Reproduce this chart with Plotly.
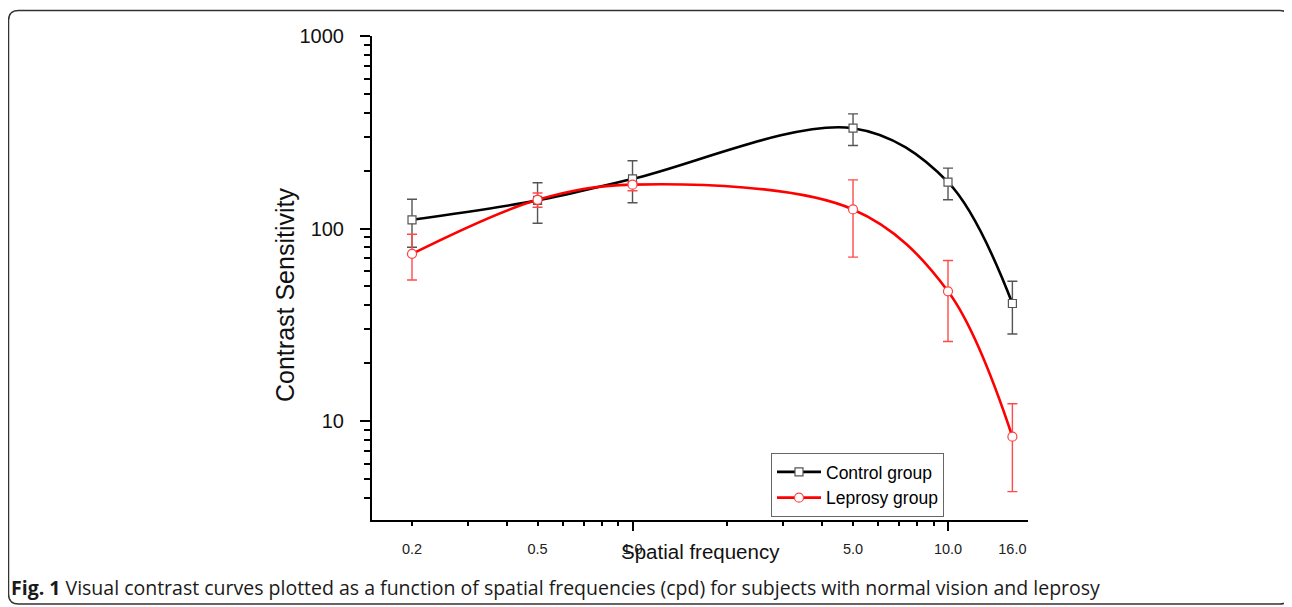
import plotly.graph_objects as go

# ---------------- data ----------------
freq = [0.2, 0.5, 1.0, 5.0, 10.0, 16.0]
freq_labels = ["0.2", "0.5", "1.0", "5.0", "10.0", "16.0"]

control = [111, 140, 181, 332, 174, 40.8]
control_hi = [142, 173, 225, 394, 206, 53.2]
control_lo = [80, 106.6, 136, 270, 141, 28.3]

leprosy = [73.8, 141, 169, 125.6, 47.2, 8.29]
leprosy_hi = [93.4, 153, 174, 179, 68.2, 12.3]
leprosy_lo = [54, 129, 157, 71, 25.9, 4.3]

y_major = [10, 100, 1000]
y_major_labels = ["10", "100", "1000"]
y_minor = [4, 5, 6, 7, 8, 9, 20, 30, 40, 50, 60, 70, 80, 90,
           200, 300, 400, 500, 600, 700, 800, 900]
x_major_marks = [1, 10]
x_minor_marks = [0.2, 0.3, 0.4, 0.5, 0.6, 0.7, 0.8, 0.9,
                 2, 3, 4, 5, 6, 7, 8, 9]

caption = "<b>Fig. 1</b> Visual contrast curves plotted as a function of spatial frequencies (cpd) for subjects with normal vision and leprosy"

# ---------------- layout geometry (screen px; page has an 8px body margin) ----------------
OFF = 8
W, H = 1292 - OFF, 607 - OFF
L, R, T, B = 372, 1028, 36, 520          # plot-area edges in screen pixels
FONT = "Arial, Liberation Sans, sans-serif"

xrange_ = [-0.8258, 1.2536]
yrange_ = [0.486, 3.0]


def px2paper(px, py):
    return (px - L) / (R - L), (B - py) / (B - T)


fig = go.Figure()

fig.add_trace(go.Scatter(
    x=freq, y=control, name="Control group",
    mode="lines+markers",
    line=dict(color="black", width=2.6, shape="spline", smoothing=1.0),
    marker=dict(symbol="square", size=8, color="white",
                line=dict(color="#555555", width=1.2)),
    error_y=dict(type="data", symmetric=False,
                 array=[h - v for h, v in zip(control_hi, control)],
                 arrayminus=[v - l for v, l in zip(control, control_lo)],
                 color="#555555", thickness=1.4, width=5),
))

fig.add_trace(go.Scatter(
    x=freq, y=leprosy, name="Leprosy group",
    mode="lines+markers",
    line=dict(color="#ff0000", width=2.6, shape="spline", smoothing=1.0),
    marker=dict(symbol="circle", size=9, color="white",
                line=dict(color="#ff4040", width=1.2)),
    error_y=dict(type="data", symmetric=False,
                 array=[h - v for h, v in zip(leprosy_hi, leprosy)],
                 arrayminus=[v - l for v, l in zip(leprosy, leprosy_lo)],
                 color="#ff4a4a", thickness=1.4, width=5),
))

# invisible helper trace on the overlay axis that carries the tick marks
fig.add_trace(go.Scatter(
    x=freq, y=control, xaxis="x2", yaxis="y", mode="markers",
    marker=dict(opacity=0), showlegend=False, hoverinfo="skip",
))


def P(px, py):
    x, y = px2paper(px, py)
    return f"{x:.5f},{y:.5f}"


# frame (rounded rectangle)
fl, ft, fr, fb, rad = 8.5, 10.5, 1289.5, 604, 10
path = (f"M {P(fl + rad, ft)} L {P(fr - rad, ft)} Q {P(fr, ft)} {P(fr, ft + rad)} "
        f"L {P(fr, fb - rad)} Q {P(fr, fb)} {P(fr - rad, fb)} "
        f"L {P(fl + rad, fb)} Q {P(fl, fb)} {P(fl, fb - rad)} "
        f"L {P(fl, ft + rad)} Q {P(fl, ft)} {P(fl + rad, ft)} Z")
fig.add_shape(type="path", path=path, xref="paper", yref="paper",
              line=dict(color="#333333", width=1.5), layer="above")

xt, yt = px2paper(700, 551)
fig.add_annotation(text="Spatial frequency", x=xt, y=yt, xref="paper", yref="paper",
                   showarrow=False, xanchor="center", yanchor="middle",
                   font=dict(family=FONT, size=20.5, color="#111111"))

xt, yt = px2paper(285, 295)
fig.add_annotation(text="Contrast Sensitivity", x=xt, y=yt, xref="paper", yref="paper",
                   showarrow=False, xanchor="center", yanchor="middle", textangle=-90,
                   font=dict(family=FONT, size=25, color="#111111"))

xt, yt = px2paper(9, 587)
fig.add_annotation(text=caption, x=xt, y=yt, xref="paper", yref="paper",
                   showarrow=False, xanchor="left", yanchor="middle",
                   font=dict(family="Open Sans, sans-serif", size=19.5, color="#1a1a1a"))

lx, ly = px2paper(771, 453)

fig.update_layout(
    width=W, height=H,
    margin=dict(l=L - OFF, r=W - (R - OFF), t=T - OFF, b=H - (B - OFF), pad=0),
    paper_bgcolor="white", plot_bgcolor="white",
    font=dict(family=FONT, color="black"),
    showlegend=True,
    legend=dict(x=lx, y=ly, xanchor="left", yanchor="top",
                bordercolor="#666666", borderwidth=1, bgcolor="white",
                font=dict(family=FONT, size=17.5), itemwidth=44,
                tracegroupgap=0),
    xaxis=dict(type="log", range=xrange_, showgrid=False, zeroline=False,
               showline=True, linecolor="black", linewidth=2,
               tickmode="array", tickvals=freq, ticktext=freq_labels,
               ticks="", tickfont=dict(family=FONT, size=14.5, color="#222222"),
               ticklabelstandoff=15),
    xaxis2=dict(type="log", range=xrange_, overlaying="x", anchor="y", side="bottom",
                showgrid=False, zeroline=False, showline=False,
                tickmode="array", tickvals=x_major_marks, showticklabels=False,
                ticks="outside", ticklen=10, tickwidth=1.6, tickcolor="black",
                minor=dict(tickmode="array", tickvals=x_minor_marks, ticks="outside",
                           ticklen=5, tickwidth=1.5, tickcolor="black", showgrid=False)),
    yaxis=dict(type="log", range=yrange_, showgrid=False, zeroline=False,
               showline=True, linecolor="black", linewidth=2,
               tickmode="array", tickvals=y_major, ticktext=y_major_labels,
               ticks="outside", ticklen=10, tickwidth=1.6, tickcolor="black",
               tickfont=dict(family=FONT, size=20, color="#111111"),
               ticklabelstandoff=12,
               minor=dict(tickmode="array", tickvals=y_minor, ticks="outside",
                          ticklen=6, tickwidth=1.5, tickcolor="black", showgrid=False)),
)

fig.write_html("out.html")
